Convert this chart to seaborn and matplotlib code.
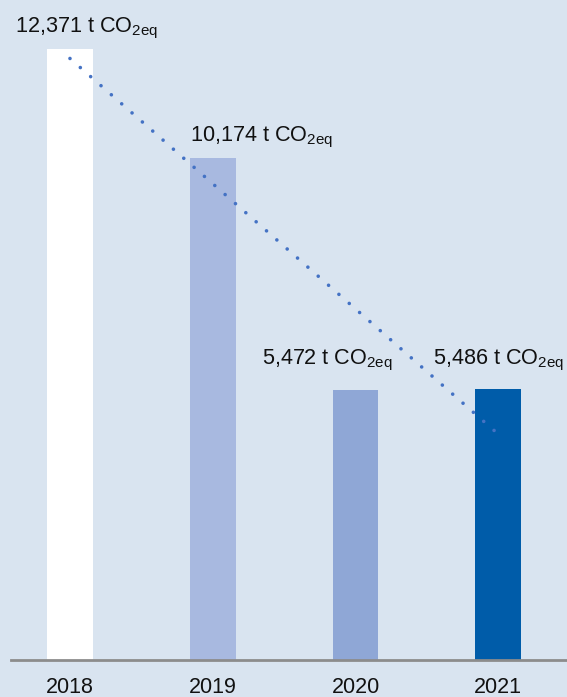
import numpy as np
import pandas as pd
import matplotlib
matplotlib.use("Agg")
import matplotlib.pyplot as plt
import seaborn as sns
from matplotlib import font_manager

# ---- data ----
years = ["2018", "2019", "2020", "2021"]
emissions = [12371, 10174, 5472, 5486]
value_labels = ["12,371", "10,174", "5,472", "5,486"]
bar_colors = ["#FFFFFF", "#A8B9E0", "#8FA7D6", "#005CA9"]

# ---- style ----
sns.set_theme(style="white")
names = {f.name for f in font_manager.fontManager.ttflist}
main_font = "Liberation Sans Narrow" if "Liberation Sans Narrow" in names else "Liberation Sans"
plt.rcParams["font.family"] = [main_font, "DejaVu Sans"]
plt.rcParams["mathtext.fontset"] = "custom"
plt.rcParams["mathtext.rm"] = main_font
plt.rcParams["mathtext.default"] = "regular"

BG = "#D9E4F0"
W, H = 567, 697
fig = plt.figure(figsize=(W / 100, H / 100), dpi=100, facecolor=BG)
ax = fig.add_axes([11 / W, (H - 660) / H, 556 / W, 660 / H])
ax.set_facecolor(BG)

df = pd.DataFrame({"year": years, "value": emissions})
sns.barplot(data=df, x="year", y="value", hue="year", palette=bar_colors,
            width=0.32, legend=False, ax=ax, saturation=1,
            edgecolor="none", linewidth=0)

# linear trend line of the data
xs = np.arange(len(emissions))
slope, intercept = np.polyfit(xs, emissions, 1)
tx = np.array([0.0, 2.99])
ax.plot(tx, intercept + slope * tx, color="#4472C4", lw=2.6,
        linestyle=(0, (0.01, 3.8)), dash_capstyle="round", zorder=5)

ax.set_xlim(-0.413, 3.481)
ax.set_ylim(0, 13363)

# value labels (positions in pixels from layout)
label_left_px = [15, 190, 262, 433]
label_gap_px = [17, 16, 25, 25]
px_per_unit = 660 / 13363
for i, (lab, v) in enumerate(zip(value_labels, emissions)):
    xd = -0.413 + (label_left_px[i] - 11) / 142.8
    yd = v + label_gap_px[i] / px_per_unit
    ax.text(xd, yd, lab + r" t CO$_{2eq}$", ha="left", va="baseline",
            fontsize=15.6, color="#111111")

for s in ["top", "right", "left"]:
    ax.spines[s].set_visible(False)
ax.spines["bottom"].set_color("#8C8C8C")
ax.spines["bottom"].set_linewidth(2)
ax.set_yticks([])
ax.set_xlabel("")
ax.set_ylabel("")
ax.tick_params(axis="x", length=0, pad=12, labelsize=15.5, labelcolor="#111111")

fig.savefig("out.png", dpi=100, facecolor=BG)
